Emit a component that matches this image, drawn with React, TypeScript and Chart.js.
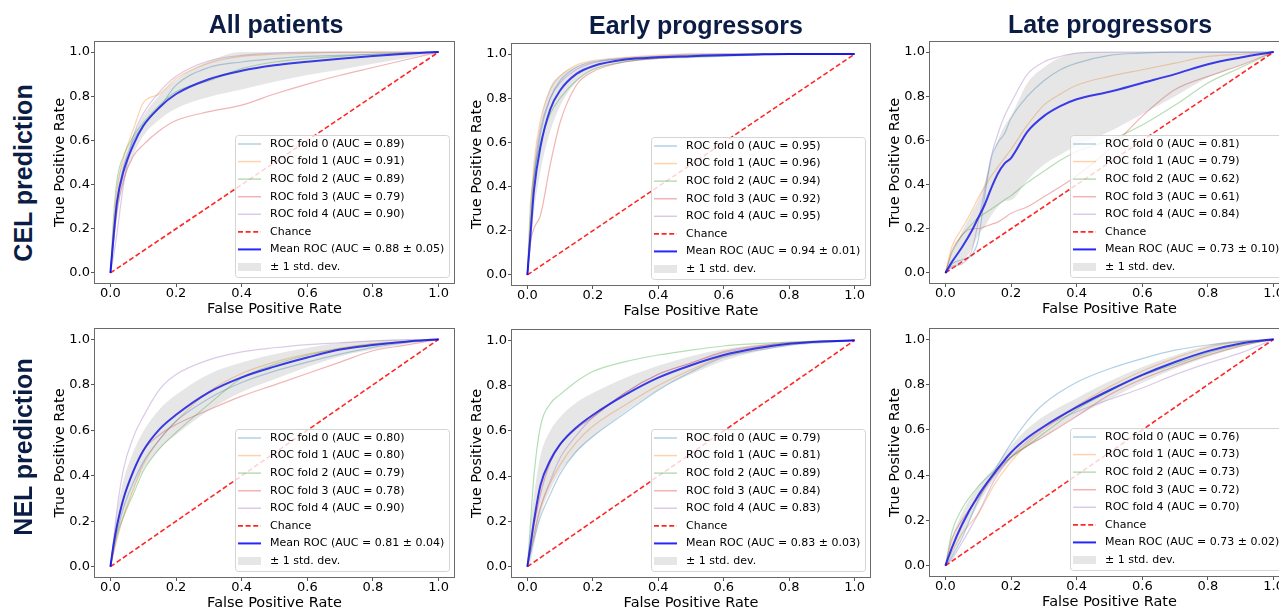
import React, { useEffect, useRef } from "react";
import { Chart, registerables } from "chart.js";

Chart.register(...registerables);

// ---------- labels ----------
const TICK_VALUES = [0, 0.2, 0.4, 0.6, 0.8, 1.0];
const COL_TITLES = ["All patients", "Early progressors", "Late progressors"];
const ROW_TITLES = ["CEL prediction", "NEL prediction"];
const X_TITLE = "False Positive Rate";
const Y_TITLE = "True Positive Rate";

// ---------- CEL prediction / All patients ----------
const CEL_ALL_FPR = [0, 0.01, 0.02, 0.04, 0.07, 0.1, 0.15, 0.2, 0.3, 0.4, 0.5, 0.6, 0.7, 0.8, 0.9, 1];
const CEL_ALL_FOLD0 = [0, 0.18, 0.33, 0.48, 0.6, 0.67, 0.75, 0.85, 0.93, 0.955, 0.97, 0.98, 0.985, 0.99, 0.995, 1];
const CEL_ALL_FOLD1 = [0, 0.22, 0.38, 0.52, 0.65, 0.77, 0.81, 0.88, 0.95, 0.98, 0.99, 0.995, 1, 1, 1, 1];
const CEL_ALL_FOLD2 = [0, 0.26, 0.42, 0.53, 0.62, 0.68, 0.76, 0.82, 0.87, 0.925, 0.955, 0.97, 0.98, 0.99, 0.995, 1];
const CEL_ALL_FOLD3 = [0, 0.15, 0.28, 0.42, 0.53, 0.58, 0.645, 0.69, 0.73, 0.76, 0.81, 0.855, 0.895, 0.93, 0.965, 1];
const CEL_ALL_FOLD4 = [0, 0.08, 0.18, 0.4, 0.62, 0.72, 0.82, 0.89, 0.96, 0.985, 0.995, 1, 1, 1, 1, 1];
const CEL_ALL_MEAN = [0, 0.17, 0.32, 0.46, 0.58, 0.665, 0.75, 0.81, 0.877, 0.915, 0.94, 0.956, 0.97, 0.982, 0.992, 1];
const CEL_ALL_STD = [0, 0.05, 0.07, 0.05, 0.045, 0.045, 0.055, 0.065, 0.08, 0.085, 0.075, 0.06, 0.05, 0.035, 0.02, 0];
const CEL_ALL_AUC = [0.89, 0.91, 0.89, 0.79, 0.9];
const CEL_ALL_MEAN_AUC = [0.88, 0.05];

// ---------- CEL prediction / Early progressors ----------
const CEL_EARLY_FPR = [0, 0.01, 0.02, 0.04, 0.07, 0.1, 0.15, 0.2, 0.3, 0.4, 0.5, 0.6, 0.7, 0.8, 0.9, 1];
const CEL_EARLY_FOLD0 = [0, 0.2, 0.42, 0.64, 0.8, 0.88, 0.94, 0.965, 0.98, 0.99, 0.995, 1, 1, 1, 1, 1];
const CEL_EARLY_FOLD1 = [0, 0.28, 0.5, 0.7, 0.84, 0.9, 0.95, 0.97, 0.985, 0.995, 1, 1, 1, 1, 1, 1];
const CEL_EARLY_FOLD2 = [0, 0.33, 0.45, 0.6, 0.73, 0.8, 0.88, 0.93, 0.965, 0.98, 0.985, 0.99, 0.995, 1, 1, 1];
const CEL_EARLY_FOLD3 = [0, 0.15, 0.21, 0.27, 0.5, 0.69, 0.86, 0.92, 0.965, 0.98, 0.99, 0.995, 1, 1, 1, 1];
const CEL_EARLY_FOLD4 = [0, 0.24, 0.45, 0.66, 0.8, 0.87, 0.93, 0.96, 0.98, 0.99, 1, 1, 1, 1, 1, 1];
const CEL_EARLY_MEAN = [0, 0.19, 0.38, 0.58, 0.75, 0.835, 0.91, 0.945, 0.975, 0.985, 0.99, 0.995, 0.998, 1, 1, 1];
const CEL_EARLY_STD = [0, 0.07, 0.1, 0.11, 0.1, 0.07, 0.035, 0.02, 0.01, 0.005, 0.004, 0.003, 0.002, 0, 0, 0];
const CEL_EARLY_AUC = [0.95, 0.96, 0.94, 0.92, 0.95];
const CEL_EARLY_MEAN_AUC = [0.94, 0.01];

// ---------- CEL prediction / Late progressors ----------
const CEL_LATE_FPR = [0, 0.02, 0.05, 0.08, 0.1, 0.12, 0.14, 0.16, 0.18, 0.2, 0.25, 0.3, 0.35, 0.4, 0.5, 0.6, 0.7, 0.8, 0.9, 1];
const CEL_LATE_FOLD0 = [0, 0.04, 0.06, 0.08, 0.15, 0.35, 0.52, 0.59, 0.63, 0.7, 0.8, 0.87, 0.92, 0.95, 0.985, 0.995, 1, 1, 1, 1];
const CEL_LATE_FOLD1 = [0, 0.12, 0.2, 0.28, 0.34, 0.39, 0.44, 0.48, 0.52, 0.56, 0.67, 0.76, 0.81, 0.85, 0.89, 0.92, 0.95, 0.98, 0.99, 1];
const CEL_LATE_FOLD2 = [0, 0.09, 0.17, 0.22, 0.25, 0.27, 0.29, 0.31, 0.33, 0.35, 0.41, 0.46, 0.51, 0.55, 0.6, 0.67, 0.76, 0.86, 0.93, 1];
const CEL_LATE_FOLD3 = [0, 0.1, 0.17, 0.2, 0.2, 0.21, 0.22, 0.23, 0.25, 0.27, 0.3, 0.345, 0.39, 0.44, 0.56, 0.71, 0.83, 0.89, 0.94, 1];
const CEL_LATE_FOLD4 = [0, 0.03, 0.04, 0.1, 0.23, 0.38, 0.53, 0.63, 0.71, 0.77, 0.9, 0.955, 0.98, 0.995, 1, 1, 1, 1, 1, 1];
const CEL_LATE_MEAN = [0, 0.05, 0.115, 0.19, 0.25, 0.31, 0.385, 0.45, 0.495, 0.52, 0.64, 0.71, 0.755, 0.786, 0.82, 0.86, 0.9, 0.945, 0.975, 1];
const CEL_LATE_STD = [0, 0.03, 0.07, 0.08, 0.08, 0.1, 0.124, 0.15, 0.17, 0.19, 0.22, 0.22, 0.22, 0.21, 0.18, 0.14, 0.1, 0.06, 0.035, 0];
const CEL_LATE_AUC = [0.81, 0.79, 0.62, 0.61, 0.84];
const CEL_LATE_MEAN_AUC = [0.73, 0.1];

// ---------- NEL prediction / All patients ----------
const NEL_ALL_FPR = [0, 0.01, 0.02, 0.04, 0.07, 0.1, 0.15, 0.2, 0.3, 0.4, 0.5, 0.6, 0.7, 0.8, 0.9, 1];
const NEL_ALL_FOLD0 = [0, 0.08, 0.15, 0.26, 0.37, 0.46, 0.56, 0.64, 0.74, 0.81, 0.86, 0.9, 0.935, 0.965, 0.985, 1];
const NEL_ALL_FOLD1 = [0, 0.06, 0.12, 0.22, 0.34, 0.45, 0.56, 0.64, 0.77, 0.85, 0.9, 0.935, 0.96, 0.98, 0.99, 1];
const NEL_ALL_FOLD2 = [0, 0.07, 0.14, 0.22, 0.32, 0.42, 0.52, 0.59, 0.715, 0.83, 0.89, 0.93, 0.96, 0.98, 0.99, 1];
const NEL_ALL_FOLD3 = [0, 0.1, 0.18, 0.3, 0.42, 0.51, 0.58, 0.625, 0.69, 0.75, 0.8, 0.85, 0.9, 0.95, 0.975, 1];
const NEL_ALL_FOLD4 = [0, 0.12, 0.25, 0.43, 0.57, 0.66, 0.78, 0.845, 0.91, 0.945, 0.963, 0.977, 0.985, 0.993, 0.998, 1];
const NEL_ALL_MEAN = [0, 0.1, 0.18, 0.3, 0.42, 0.51, 0.605, 0.668, 0.767, 0.833, 0.88, 0.92, 0.955, 0.975, 0.99, 1];
const NEL_ALL_STD = [0, 0.04, 0.06, 0.08, 0.085, 0.085, 0.088, 0.088, 0.08, 0.065, 0.055, 0.042, 0.03, 0.02, 0.01, 0];
const NEL_ALL_AUC = [0.8, 0.8, 0.79, 0.78, 0.9];
const NEL_ALL_MEAN_AUC = [0.81, 0.04];

// ---------- NEL prediction / Early progressors ----------
const NEL_EARLY_FPR = [0, 0.01, 0.02, 0.04, 0.07, 0.1, 0.15, 0.2, 0.3, 0.4, 0.5, 0.6, 0.7, 0.8, 0.9, 1];
const NEL_EARLY_FOLD0 = [0, 0.06, 0.12, 0.22, 0.32, 0.41, 0.51, 0.575, 0.68, 0.78, 0.86, 0.925, 0.955, 0.978, 0.99, 1];
const NEL_EARLY_FOLD1 = [0, 0.07, 0.14, 0.26, 0.37, 0.45, 0.55, 0.62, 0.715, 0.8, 0.87, 0.93, 0.96, 0.985, 0.995, 1];
const NEL_EARLY_FOLD2 = [0, 0.2, 0.4, 0.62, 0.72, 0.76, 0.818, 0.862, 0.906, 0.935, 0.957, 0.975, 0.985, 0.992, 0.997, 1];
const NEL_EARLY_FOLD3 = [0, 0.1, 0.18, 0.32, 0.46, 0.54, 0.61, 0.66, 0.77, 0.85, 0.9, 0.95, 0.975, 0.99, 0.995, 1];
const NEL_EARLY_FOLD4 = [0, 0.07, 0.14, 0.26, 0.38, 0.48, 0.58, 0.66, 0.77, 0.85, 0.9, 0.945, 0.97, 0.985, 0.995, 1];
const NEL_EARLY_MEAN = [0, 0.1, 0.2, 0.36, 0.47, 0.54, 0.615, 0.67, 0.76, 0.835, 0.89, 0.935, 0.965, 0.985, 0.995, 1];
const NEL_EARLY_STD = [0, 0.08, 0.11, 0.13, 0.13, 0.12, 0.11, 0.097, 0.075, 0.053, 0.04, 0.025, 0.015, 0.008, 0.004, 0];
const NEL_EARLY_AUC = [0.79, 0.81, 0.89, 0.84, 0.83];
const NEL_EARLY_MEAN_AUC = [0.83, 0.03];

// ---------- NEL prediction / Late progressors ----------
const NEL_LATE_FPR = [0, 0.02, 0.05, 0.1, 0.15, 0.2, 0.25, 0.3, 0.4, 0.5, 0.6, 0.7, 0.8, 0.9, 1];
const NEL_LATE_FOLD0 = [0, 0.04, 0.12, 0.29, 0.42, 0.54, 0.64, 0.715, 0.81, 0.87, 0.915, 0.952, 0.975, 0.99, 1];
const NEL_LATE_FOLD1 = [0, 0.06, 0.14, 0.23, 0.36, 0.46, 0.54, 0.6, 0.705, 0.79, 0.86, 0.917, 0.965, 0.99, 1];
const NEL_LATE_FOLD2 = [0, 0.15, 0.25, 0.35, 0.42, 0.48, 0.53, 0.585, 0.69, 0.77, 0.84, 0.89, 0.94, 0.975, 1];
const NEL_LATE_FOLD3 = [0, 0.12, 0.2, 0.3, 0.4, 0.48, 0.53, 0.57, 0.66, 0.755, 0.825, 0.88, 0.93, 0.97, 1];
const NEL_LATE_FOLD4 = [0, 0.03, 0.1, 0.23, 0.38, 0.48, 0.55, 0.61, 0.68, 0.734, 0.785, 0.844, 0.895, 0.94, 1];
const NEL_LATE_MEAN = [0, 0.08, 0.18, 0.31, 0.41, 0.5, 0.565, 0.615, 0.7, 0.775, 0.843, 0.9, 0.948, 0.982, 1];
const NEL_LATE_STD = [0, 0.04, 0.05, 0.04, 0.025, 0.03, 0.04, 0.045, 0.04, 0.04, 0.035, 0.03, 0.025, 0.015, 0];
const NEL_LATE_AUC = [0.76, 0.73, 0.73, 0.72, 0.7];
const NEL_LATE_MEAN_AUC = [0.73, 0.02];

// ---------- layout (page pixels of each axes box: left, top, right, bottom) ----------
const PANEL_BOXES = [
  [94, 41, 455, 284],
  [511, 43, 871, 286],
  [929, 41, 1290, 284],
  [94, 328, 455, 578],
  [511, 329, 871, 578],
  [929, 328, 1290, 577],
];

type Panel = {
  box: number[];
  fpr: number[];
  folds: number[][];
  mean: number[];
  std: number[];
  auc: number[];
  meanAuc: number[];
};

const PANELS: Panel[] = [
  { box: PANEL_BOXES[0], fpr: CEL_ALL_FPR, folds: [CEL_ALL_FOLD0, CEL_ALL_FOLD1, CEL_ALL_FOLD2, CEL_ALL_FOLD3, CEL_ALL_FOLD4], mean: CEL_ALL_MEAN, std: CEL_ALL_STD, auc: CEL_ALL_AUC, meanAuc: CEL_ALL_MEAN_AUC },
  { box: PANEL_BOXES[1], fpr: CEL_EARLY_FPR, folds: [CEL_EARLY_FOLD0, CEL_EARLY_FOLD1, CEL_EARLY_FOLD2, CEL_EARLY_FOLD3, CEL_EARLY_FOLD4], mean: CEL_EARLY_MEAN, std: CEL_EARLY_STD, auc: CEL_EARLY_AUC, meanAuc: CEL_EARLY_MEAN_AUC },
  { box: PANEL_BOXES[2], fpr: CEL_LATE_FPR, folds: [CEL_LATE_FOLD0, CEL_LATE_FOLD1, CEL_LATE_FOLD2, CEL_LATE_FOLD3, CEL_LATE_FOLD4], mean: CEL_LATE_MEAN, std: CEL_LATE_STD, auc: CEL_LATE_AUC, meanAuc: CEL_LATE_MEAN_AUC },
  { box: PANEL_BOXES[3], fpr: NEL_ALL_FPR, folds: [NEL_ALL_FOLD0, NEL_ALL_FOLD1, NEL_ALL_FOLD2, NEL_ALL_FOLD3, NEL_ALL_FOLD4], mean: NEL_ALL_MEAN, std: NEL_ALL_STD, auc: NEL_ALL_AUC, meanAuc: NEL_ALL_MEAN_AUC },
  { box: PANEL_BOXES[4], fpr: NEL_EARLY_FPR, folds: [NEL_EARLY_FOLD0, NEL_EARLY_FOLD1, NEL_EARLY_FOLD2, NEL_EARLY_FOLD3, NEL_EARLY_FOLD4], mean: NEL_EARLY_MEAN, std: NEL_EARLY_STD, auc: NEL_EARLY_AUC, meanAuc: NEL_EARLY_MEAN_AUC },
  { box: PANEL_BOXES[5], fpr: NEL_LATE_FPR, folds: [NEL_LATE_FOLD0, NEL_LATE_FOLD1, NEL_LATE_FOLD2, NEL_LATE_FOLD3, NEL_LATE_FOLD4], mean: NEL_LATE_MEAN, std: NEL_LATE_STD, auc: NEL_LATE_AUC, meanAuc: NEL_LATE_MEAN_AUC },
];

const FOLD_COLORS = [
  "rgba(31,119,180,0.35)",
  "rgba(255,127,14,0.35)",
  "rgba(44,160,44,0.35)",
  "rgba(214,39,40,0.35)",
  "rgba(148,103,189,0.35)",
];
const MEAN_COLOR = "rgba(0,0,255,0.85)";
const CHANCE_COLOR = "rgba(255,0,0,0.85)";
const BAND_COLOR = "rgba(128,128,128,0.2)";
const FONT = '"DejaVu Sans", "Liberation Sans", sans-serif';
const NAVY = "#0b1d45";

const Y_AXIS_W = 44;
const X_AXIS_H = 36;
const PAD_TOP = 10;
const PAD_RIGHT = 2;

type LegendItem = { label: string; kind: "line" | "band"; color: string; width: number; dash?: number[] };

function drawLegend(chart: any, items: LegendItem[]) {
  const { ctx, chartArea: a } = chart;
  ctx.save();
  ctx.font = `11px ${FONT}`;
  const maxW = Math.max(...items.map((it) => ctx.measureText(it.label).width));
  const rowH = 17.57;
  const w = Math.round(35 + maxW + 5);
  const h = Math.round(9 + rowH * (items.length - 1) + 10);
  const x = Math.round(a.right - 6 - w);
  const y = Math.round(a.bottom - 7 - h);
  ctx.beginPath();
  if (ctx.roundRect) ctx.roundRect(x + 0.5, y + 0.5, w, h, 3);
  else ctx.rect(x + 0.5, y + 0.5, w, h);
  ctx.fillStyle = "rgba(255,255,255,0.8)";
  ctx.fill();
  ctx.strokeStyle = "#d4d4d4";
  ctx.lineWidth = 1;
  ctx.stroke();
  items.forEach((it, i) => {
    const cy = y + 9 + i * rowH;
    if (it.kind === "band") {
      ctx.fillStyle = BAND_COLOR;
      ctx.fillRect(x + 3, cy - 4, 23, 8);
    } else {
      ctx.beginPath();
      ctx.setLineDash(it.dash || []);
      ctx.strokeStyle = it.color;
      ctx.lineWidth = it.width;
      ctx.moveTo(x + 3, cy);
      ctx.lineTo(x + 26, cy);
      ctx.stroke();
      ctx.setLineDash([]);
    }
    ctx.fillStyle = "#000";
    ctx.textBaseline = "middle";
    ctx.textAlign = "left";
    ctx.fillText(it.label, x + 35, cy);
  });
  ctx.restore();
}

function RocPanel({ p }: { p: Panel }) {
  const ref = useRef<HTMLCanvasElement | null>(null);
  const [l, t, r, b] = p.box;
  const cw = r - l + Y_AXIS_W + PAD_RIGHT;
  const ch = b - t + PAD_TOP + X_AXIS_H;

  useEffect(() => {
    if (!ref.current) return;
    const pts = (ys: number[]) => p.fpr.map((x, i) => ({ x, y: ys[i] }));
    const upper = p.fpr.map((x, i) => ({ x, y: Math.min(p.mean[i] + p.std[i], 1) }));
    const lower = p.fpr.map((x, i) => ({ x, y: Math.max(p.mean[i] - p.std[i], 0) }));

    const datasets: any[] = [
      {
        label: "± 1 std. dev.",
        data: upper,
        borderColor: "rgba(0,0,0,0)",
        borderWidth: 1,
        backgroundColor: BAND_COLOR,
        fill: "+1",
        order: 0,
        cubicInterpolationMode: "monotone",
      },
      {
        label: "lower",
        data: lower,
        borderColor: "rgba(0,0,0,0)",
        borderWidth: 1,
        fill: false,
        order: 1,
        cubicInterpolationMode: "monotone",
      },
      {
        label: "Mean ROC",
        data: pts(p.mean),
        borderColor: MEAN_COLOR,
        borderWidth: 2,
        fill: false,
        order: 2,
        cubicInterpolationMode: "monotone",
      },
      {
        label: "Chance",
        data: [
          { x: 0, y: 0 },
          { x: 1, y: 1 },
        ],
        borderColor: CHANCE_COLOR,
        borderWidth: 1.6,
        borderDash: [5, 2.6],
        fill: false,
        order: 3,
      },
      ...p.folds.map((f, i) => ({
        label: `ROC fold ${i}`,
        data: pts(f),
        borderColor: FOLD_COLORS[i],
        borderWidth: 1.2,
        fill: false,
        order: 4 + i,
        cubicInterpolationMode: "monotone",
      })),
    ];

    const items: LegendItem[] = [
      ...p.auc.map((a, i) => ({
        label: `ROC fold ${i} (AUC = ${a.toFixed(2)})`,
        kind: "line" as const,
        color: FOLD_COLORS[i],
        width: 1.5,
      })),
      { label: "Chance", kind: "line", color: CHANCE_COLOR, width: 1.6, dash: [5, 2.6] },
      {
        label: `Mean ROC (AUC = ${p.meanAuc[0].toFixed(2)} ± ${p.meanAuc[1].toFixed(2)})`,
        kind: "line",
        color: MEAN_COLOR,
        width: 2,
      },
      { label: "± 1 std. dev.", kind: "band", color: BAND_COLOR, width: 0 },
    ];

    const decor = {
      id: "rocDecor",
      afterDraw(chart: any) {
        const { ctx, chartArea: a } = chart;
        ctx.save();
        ctx.strokeStyle = "#6a6a6a";
        ctx.lineWidth = 1;
        ctx.strokeRect(
          Math.round(a.left) + 0.5,
          Math.round(a.top) + 0.5,
          Math.round(a.right - a.left) - 1,
          Math.round(a.bottom - a.top) - 1
        );
        ctx.restore();
        drawLegend(chart, items);
      },
    };

    const tickGrid = {
      display: true,
      drawOnChartArea: false,
      drawTicks: true,
      tickLength: 3,
      color: "#555",
      lineWidth: 1,
    };

    const chart = new Chart(ref.current, {
      type: "line",
      data: { datasets },
      options: {
        responsive: false,
        maintainAspectRatio: false,
        animation: false,
        devicePixelRatio: 1,
        events: [],
        layout: { padding: { left: 0, top: PAD_TOP, right: PAD_RIGHT, bottom: 0 } },
        elements: { point: { radius: 0 }, line: { tension: 0 } },
        plugins: { legend: { display: false }, tooltip: { enabled: false } },
        scales: {
          x: {
            type: "linear",
            min: -0.05,
            max: 1.05,
            afterBuildTicks: (s: any) => {
              s.ticks = TICK_VALUES.map((v) => ({ value: v }));
            },
            afterFit: (s: any) => {
              s.height = X_AXIS_H;
            },
            ticks: {
              callback: (v: any) => Number(v).toFixed(1),
              font: { family: FONT, size: 13, lineHeight: 1 },
              color: "#000",
              padding: 0,
              maxRotation: 0,
              autoSkip: false,
            },
            grid: tickGrid,
            border: { display: false },
            title: {
              display: true,
              text: X_TITLE,
              color: "#000",
              font: { family: FONT, size: 14.5, lineHeight: 1.2 },
              padding: { top: 0, bottom: 2 },
            },
          },
          y: {
            type: "linear",
            min: -0.05,
            max: 1.05,
            afterBuildTicks: (s: any) => {
              s.ticks = TICK_VALUES.map((v) => ({ value: v }));
            },
            afterFit: (s: any) => {
              s.width = Y_AXIS_W;
            },
            ticks: {
              callback: (v: any) => Number(v).toFixed(1),
              font: { family: FONT, size: 13, lineHeight: 1.2 },
              color: "#000",
              padding: 1,
              autoSkip: false,
            },
            grid: tickGrid,
            border: { display: false },
            title: {
              display: true,
              text: Y_TITLE,
              color: "#000",
              font: { family: FONT, size: 14.5, lineHeight: 1.2 },
              padding: { top: 2, bottom: 0 },
            },
          },
        },
      },
      plugins: [decor],
    } as any);
    return () => chart.destroy();
  }, [p]);

  return (
    <canvas
      ref={ref}
      width={cw}
      height={ch}
      style={{
        position: "absolute",
        left: l - Y_AXIS_W,
        top: t - PAD_TOP,
        width: cw,
        height: ch,
      }}
    />
  );
}

const titleStyle: React.CSSProperties = {
  position: "absolute",
  transform: "translate(-50%, -50%)",
  font: 'bold 25px "Liberation Sans", Arial, Helvetica, sans-serif',
  lineHeight: "25px",
  color: NAVY,
  whiteSpace: "nowrap",
};

const COL_TITLE_POS = [
  [276, 23.5],
  [696, 25],
  [1110, 24],
];
const ROW_TITLE_POS = [
  [22.5, 172.5],
  [22.5, 447],
];

export default function App() {
  return (
    <div
      style={{
        position: "fixed",
        left: 0,
        top: 0,
        width: 1279,
        height: 611,
        overflow: "hidden",
        background: "#fff",
      }}
    >
      {PANELS.map((p, i) => (
        <RocPanel key={i} p={p} />
      ))}
      {COL_TITLES.map((txt, i) => (
        <div key={"c" + i} style={{ ...titleStyle, left: COL_TITLE_POS[i][0], top: COL_TITLE_POS[i][1] }}>
          {txt}
        </div>
      ))}
      {ROW_TITLES.map((txt, i) => (
        <div
          key={"r" + i}
          style={{
            ...titleStyle,
            left: ROW_TITLE_POS[i][0],
            top: ROW_TITLE_POS[i][1],
            transform: "translate(-50%, -50%) rotate(-90deg)",
          }}
        >
          {txt}
        </div>
      ))}
    </div>
  );
}
